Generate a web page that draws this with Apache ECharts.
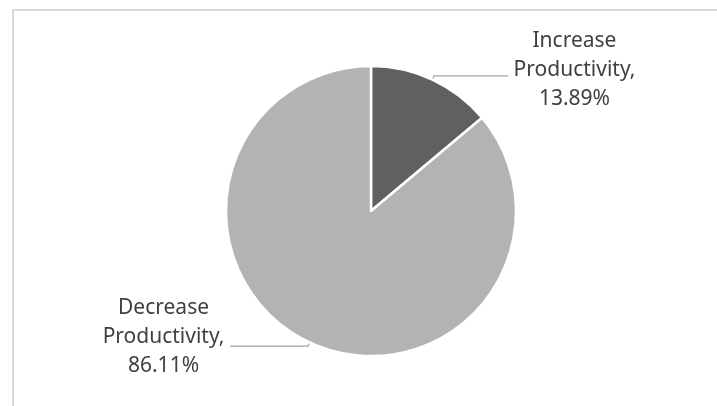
<!DOCTYPE html>
<html>
<head>
<meta charset="utf-8">
<script src="https://cdn.jsdelivr.net/npm/echarts@6/dist/echarts.min.js"></script>
<style>
  html, body { margin: 0; padding: 0; background: #ffffff; }
  #chart { width: 717px; height: 406px; }
</style>
</head>
<body>
<div id="chart"></div>
<script>
// Survey result: effect on productivity
const categories = ['Increase Productivity', 'Decrease Productivity'];
const shares = [13.89, 86.11];
const sliceColors = ['#606060', '#b3b3b3'];

// per-slice leader length and label lift
const leaderLength = [74, 78];
const labelLift = [12, 18];

const chart = echarts.init(document.getElementById('chart'), null, { renderer: 'canvas' });

const pieData = categories.map((name, i) => ({
  name: name,
  value: shares[i],
  itemStyle: { color: sliceColors[i] },
  labelLine: { length2: leaderLength[i] },
  label: { padding: [0, 0, labelLift[i], 0] }
}));

chart.setOption({
  backgroundColor: '#ffffff',
  animation: false,
  graphic: [{
    type: 'rect',
    shape: { x: 13, y: 10, width: 720, height: 420 },
    style: { fill: 'none', stroke: '#d9d9d9', lineWidth: 2 },
    silent: true
  }],
  series: [{
    type: 'pie',
    center: [371, 211],
    radius: 145,
    startAngle: 90,
    clockwise: true,
    avoidLabelOverlap: false,
    data: pieData,
    itemStyle: { borderColor: '#ffffff', borderWidth: 2.5 },
    label: {
      show: true,
      position: 'outside',
      width: 123,
      formatter: function (p) {
        const words = p.name.split(' ');
        return '{t|' + words[0] + '}\n{t|' + words.slice(1).join(' ') + ',}\n{t|' +
          p.value.toFixed(2) + '%}';
      },
      rich: {
        t: {
          align: 'center',
          fontFamily: 'Noto Sans',
          fontSize: 21,
          lineHeight: 29,
          color: '#404040'
        }
      }
    },
    labelLine: {
      show: true,
      length: 4,
      lineStyle: { color: '#a6a6a6', width: 1.2 }
    },
    emphasis: { disabled: true }
  }]
});
</script>
</body>
</html>
